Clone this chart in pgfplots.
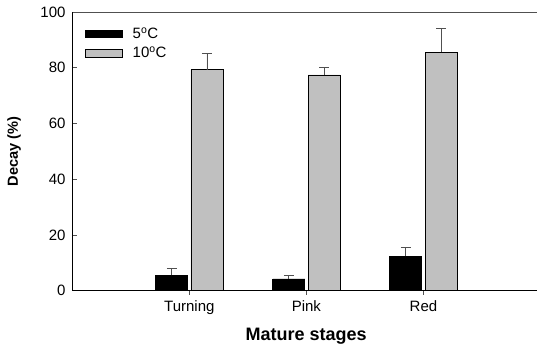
\documentclass[border=0pt]{standalone}
\usepackage{fontspec}
\setmainfont{Liberation Sans}
\usepackage{pgfplots}
\pgfplotsset{compat=1.18}
\definecolor{barsilver}{HTML}{C0C0C0}
\definecolor{ebgray}{HTML}{505050}
\begin{document}
\begin{tikzpicture}
\begin{axis}[
  scale only axis, width=464.3pt, height=278.7pt,
  xmin=0.0034, xmax=3.97, ymin=0, ymax=100,
  axis x line=bottom, axis y line=left,
  axis line style={-, line width=0.8pt, black},
  xtick={1,2,3}, xticklabels={Turning,Pink,Red},
  ytick={0,20,40,60,80,100},
  /pgf/number format/assume math mode=true,
  tick label style={font=\fontsize{15}{18}\selectfont},
  xtick align=outside, ytick align=inside,
  major tick length=4pt,
  tick style={draw=ebgray, line width=0.8pt},
  yticklabel style={xshift=-3.7pt},
  xticklabel style={yshift=-2pt},
  xlabel={Mature stages},
  ylabel={Decay (\%)},
  xlabel style={font=\fontsize{18}{20}\selectfont\bfseries, at={(axis description cs:0.503,-0.1794)}, anchor=base},
  ylabel style={font=\fontsize{14.6}{17}\selectfont\bfseries, at={(axis description cs:-0.1038,0.5)}, anchor=south, rotate=0},
  legend style={at={(axis description cs:0.0265,0.952)}, anchor=north west, draw=none, fill=none,
    font=\fontsize{15}{18}\selectfont, row sep=3pt, column sep=8pt, inner sep=0pt},
  legend cell align=left,
  legend image code/.code={\draw[#1,/tikz/.cd,bar shift=0pt] (0pt,-3.85pt) rectangle (36.7pt,3.85pt);},
  clip=false,
]
\addplot[ybar, bar width=32pt, bar shift=0pt, fill=black, draw=black, line width=0.8pt,
  error bars/.cd, y dir=plus, y explicit,
  error bar style={draw=ebgray, line width=0.8pt},
  error mark options={rotate=90, mark size=5pt, draw=ebgray, line width=0.8pt}]
  coordinates {(0.8496,5.5) +- (0,2.4) (1.8496,4.2) +- (0,1.2) (2.8496,12.35) +- (0,3.25)};
\addlegendentry{5\textsuperscript{o}C}
\addplot[ybar, bar width=32pt, bar shift=0pt, fill=barsilver, draw=black, line width=0.8pt,
  error bars/.cd, y dir=plus, y explicit,
  error bar style={draw=ebgray, line width=0.8pt},
  error mark options={rotate=90, mark size=5pt, draw=ebgray, line width=0.8pt}]
  coordinates {(1.1504,79.3) +- (0,5.8) (2.1504,77.4) +- (0,2.7) (3.1504,85.6) +- (0,8.6)};
\addlegendentry{10\textsuperscript{o}C}
\draw[ebgray, line width=0.8pt] (rel axis cs:0,1) -- (rel axis cs:1,1);
\coordinate (ll) at (rel axis cs:0,0);
\coordinate (ur) at (rel axis cs:1,1);
\end{axis}
\pgfresetboundingbox
\path ([shift={(-72.7pt,-55.3pt)}]ll) rectangle ([shift={(0pt,12pt)}]ur);
\end{tikzpicture}
\end{document}
